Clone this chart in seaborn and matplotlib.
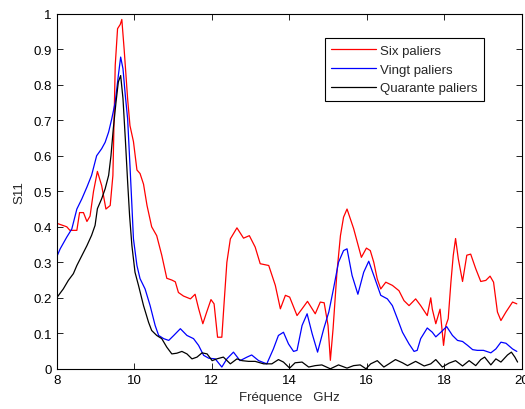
import numpy as np
import pandas as pd
import matplotlib
matplotlib.use("Agg")
import matplotlib.pyplot as plt
import seaborn as sns

# Six paliers (red)
six_f = [8.0, 8.26, 8.34, 8.52, 8.59, 8.69, 8.78, 8.86, 8.95, 9.05, 9.16, 9.27, 9.38, 9.45, 9.51, 9.57,
         9.64, 9.68, 9.74, 9.83, 9.89, 9.98, 10.07, 10.15, 10.24, 10.33, 10.45, 10.58, 10.71, 10.84,
         10.97, 11.06, 11.14, 11.27, 11.45, 11.57, 11.66, 11.77, 11.87, 11.98, 12.06, 12.15, 12.26,
         12.32, 12.39, 12.48, 12.65, 12.82, 12.97, 13.12, 13.25, 13.47, 13.64, 13.77, 13.90, 14.01,
         14.20, 14.33, 14.47, 14.67, 14.80, 14.90, 15.00, 15.06, 15.13, 15.23, 15.32, 15.40, 15.49,
         15.66, 15.86, 15.99, 16.09, 16.18, 16.27, 16.36, 16.49, 16.66, 16.83, 16.96, 17.09, 17.26,
         17.39, 17.56, 17.65, 17.69, 17.78, 17.89, 17.98, 18.04, 18.10, 18.17, 18.23, 18.29, 18.36,
         18.47, 18.58, 18.68, 18.81, 18.94, 19.07, 19.18, 19.27, 19.37, 19.46, 19.59, 19.76, 19.87]
six_v = [0.41, 0.40, 0.39, 0.39, 0.44, 0.44, 0.415, 0.43, 0.50, 0.556, 0.516, 0.45, 0.46, 0.545, 0.855, 0.958,
         0.97, 0.984, 0.90, 0.76, 0.685, 0.64, 0.56, 0.55, 0.52, 0.46, 0.40, 0.375, 0.32, 0.255,
         0.25, 0.245, 0.215, 0.205, 0.197, 0.21, 0.17, 0.127, 0.16, 0.195, 0.183, 0.089, 0.089,
         0.188, 0.30, 0.366, 0.397, 0.368, 0.375, 0.343, 0.296, 0.291, 0.235, 0.169, 0.207, 0.202,
         0.15, 0.169, 0.19, 0.155, 0.188, 0.186, 0.122, 0.024, 0.113, 0.272, 0.375, 0.427, 0.45,
         0.395, 0.314, 0.34, 0.333, 0.30, 0.253, 0.225, 0.244, 0.235, 0.22, 0.192, 0.178, 0.197,
         0.178, 0.15, 0.20, 0.168, 0.127, 0.168, 0.066, 0.122, 0.141, 0.244, 0.319, 0.367, 0.31,
         0.246, 0.32, 0.323, 0.282, 0.246, 0.249, 0.261, 0.244, 0.16, 0.136, 0.16, 0.188, 0.183]

# Vingt paliers (blue)
vingt_f = [8.0, 8.09, 8.26, 8.39, 8.52, 8.65, 8.78, 8.90, 9.03, 9.16, 9.25, 9.34, 9.42, 9.51, 9.59, 9.65,
           9.71, 9.77, 9.83, 9.89, 9.94, 9.98, 10.07, 10.15, 10.28, 10.41, 10.54, 10.63, 10.76, 10.89,
           11.02, 11.19, 11.36, 11.53, 11.66, 11.79, 11.92, 12.09, 12.26, 12.39, 12.56, 12.73, 12.91,
           13.03, 13.21, 13.42, 13.59, 13.72, 13.85, 13.98, 14.11, 14.20, 14.33, 14.46, 14.59, 14.73,
           14.89, 15.02, 15.14, 15.27, 15.40, 15.49, 15.62, 15.77, 15.92, 16.05, 16.18, 16.36, 16.53,
           16.66, 16.79, 16.92, 17.09, 17.22, 17.30, 17.39, 17.56, 17.69, 17.78, 17.91, 18.06, 18.21,
           18.34, 18.47, 18.60, 18.73, 18.85, 19.01, 19.20, 19.33, 19.46, 19.59, 19.76, 19.87]
vingt_v = [0.315, 0.338, 0.371, 0.394, 0.45, 0.479, 0.512, 0.545, 0.60, 0.62, 0.638, 0.667, 0.704, 0.751, 0.826, 0.878,
           0.845, 0.77, 0.704, 0.573, 0.46, 0.366, 0.291, 0.254, 0.225, 0.178, 0.122, 0.094, 0.085, 0.08,
           0.094, 0.113, 0.094, 0.085, 0.066, 0.038, 0.030, 0.028, 0.005, 0.028, 0.047, 0.023, 0.033,
           0.039, 0.023, 0.014, 0.056, 0.094, 0.103, 0.07, 0.049, 0.052, 0.122, 0.155, 0.099, 0.047,
           0.113, 0.16, 0.225, 0.30, 0.333, 0.338, 0.263, 0.21, 0.272, 0.303, 0.263, 0.207, 0.197,
           0.178, 0.141, 0.103, 0.07, 0.049, 0.052, 0.085, 0.115, 0.103, 0.09, 0.103, 0.119, 0.094,
           0.080, 0.077, 0.066, 0.054, 0.052, 0.052, 0.045, 0.056, 0.075, 0.072, 0.056, 0.049]

# Quarante paliers (black)
quarante_f = [8.0, 8.17, 8.30, 8.43, 8.52, 8.65, 8.78, 8.90, 8.99, 9.05, 9.16, 9.25, 9.34, 9.40, 9.46, 9.53,
              9.59, 9.65, 9.71, 9.77, 9.83, 9.88, 9.94, 10.02, 10.11, 10.24, 10.37, 10.45, 10.58, 10.71,
              10.84, 10.97, 11.10, 11.23, 11.36, 11.49, 11.62, 11.75, 11.88, 12.01, 12.13, 12.30, 12.48,
              12.65, 12.78, 12.95, 13.12, 13.34, 13.55, 13.72, 13.85, 14.01, 14.15, 14.33, 14.50, 14.67,
              14.84, 15.06, 15.27, 15.49, 15.66, 15.83, 15.98, 16.10, 16.27, 16.44, 16.57, 16.74, 16.92,
              17.05, 17.26, 17.48, 17.65, 17.78, 17.95, 18.12, 18.29, 18.47, 18.64, 18.81, 18.94, 19.04,
              19.20, 19.33, 19.46, 19.63, 19.73, 19.82, 19.89]
quarante_v = [0.20, 0.225, 0.249, 0.268, 0.291, 0.319, 0.347, 0.376, 0.404, 0.451, 0.479, 0.507, 0.545, 0.60, 0.676, 0.751,
              0.808, 0.826, 0.761, 0.648, 0.526, 0.432, 0.347, 0.272, 0.235, 0.178, 0.131, 0.108, 0.094, 0.085,
              0.061, 0.042, 0.044, 0.049, 0.042, 0.028, 0.033, 0.045, 0.042, 0.023, 0.028, 0.033, 0.014,
              0.028, 0.023, 0.021, 0.021, 0.014, 0.014, 0.026, 0.019, 0.002, 0.017, 0.019, 0.005, 0.009,
              0.011, 0.0, 0.011, 0.002, 0.009, 0.011, 0.0, 0.014, 0.023, 0.005, 0.014, 0.026, 0.017,
              0.009, 0.021, 0.008, 0.014, 0.026, 0.005, 0.016, 0.023, 0.008, 0.023, 0.009, 0.026, 0.033,
              0.011, 0.028, 0.019, 0.039, 0.047, 0.033, 0.019]

series_names = ["Six paliers", "Vingt paliers", "Quarante paliers"]
colors = ["#ff0000", "#0000ff", "#000000"]
x_ticks = [8, 10, 12, 14, 16, 18, 20]
y_ticks = [0, 0.1, 0.2, 0.3, 0.4, 0.5, 0.6, 0.7, 0.8, 0.9, 1]
y_tick_labels = ["0", "0.1", "0.2", "0.3", "0.4", "0.5", "0.6", "0.7", "0.8", "0.9", "1"]

frames = []
for name, f, v in zip(series_names, [six_f, vingt_f, quarante_f], [six_v, vingt_v, quarante_v]):
    frames.append(pd.DataFrame({"f": f, "v": v, "serie": name}))
df = pd.concat(frames, ignore_index=True)

sns.set_style("ticks")
plt.rcParams["font.family"] = ["Liberation Sans", "DejaVu Sans"]
plt.rcParams["xtick.direction"] = "in"
plt.rcParams["ytick.direction"] = "in"

fig = plt.figure(figsize=(5.25, 4.10), dpi=100)
ax = fig.add_axes([0.108, 0.098, 0.886, 0.866])
sns.lineplot(data=df, x="f", y="v", hue="serie", hue_order=series_names,
             palette=dict(zip(series_names, colors)), linewidth=0.9, ax=ax,
             sort=False, estimator=None)

ax.set_xlim(8, 20)
ax.set_ylim(0, 1)
ax.set_xticks(x_ticks)
ax.set_xticklabels([str(t) for t in x_ticks])
ax.set_yticks(y_ticks)
ax.set_yticklabels(y_tick_labels)
ax.tick_params(axis="both", labelsize=9.5, length=4.5, width=0.6, top=True, right=True, colors="black")
for s in ax.spines.values():
    s.set_linewidth(0.8)
    s.set_color("black")
ax.set_xlabel("Fréquence   GHz", fontsize=9.5, labelpad=4)
ax.set_ylabel("S11", fontsize=9.5, labelpad=6)

leg = ax.legend(loc="upper right", bbox_to_anchor=(0.919, 0.932), borderaxespad=0,
                fontsize=9.5, frameon=True, fancybox=False, edgecolor="black", framealpha=1,
                handlelength=3.4, borderpad=0.5, labelspacing=0.5, handletextpad=0.3, title=None)
leg.get_frame().set_linewidth(0.8)

fig.savefig("out.png", dpi=100, facecolor="white")
